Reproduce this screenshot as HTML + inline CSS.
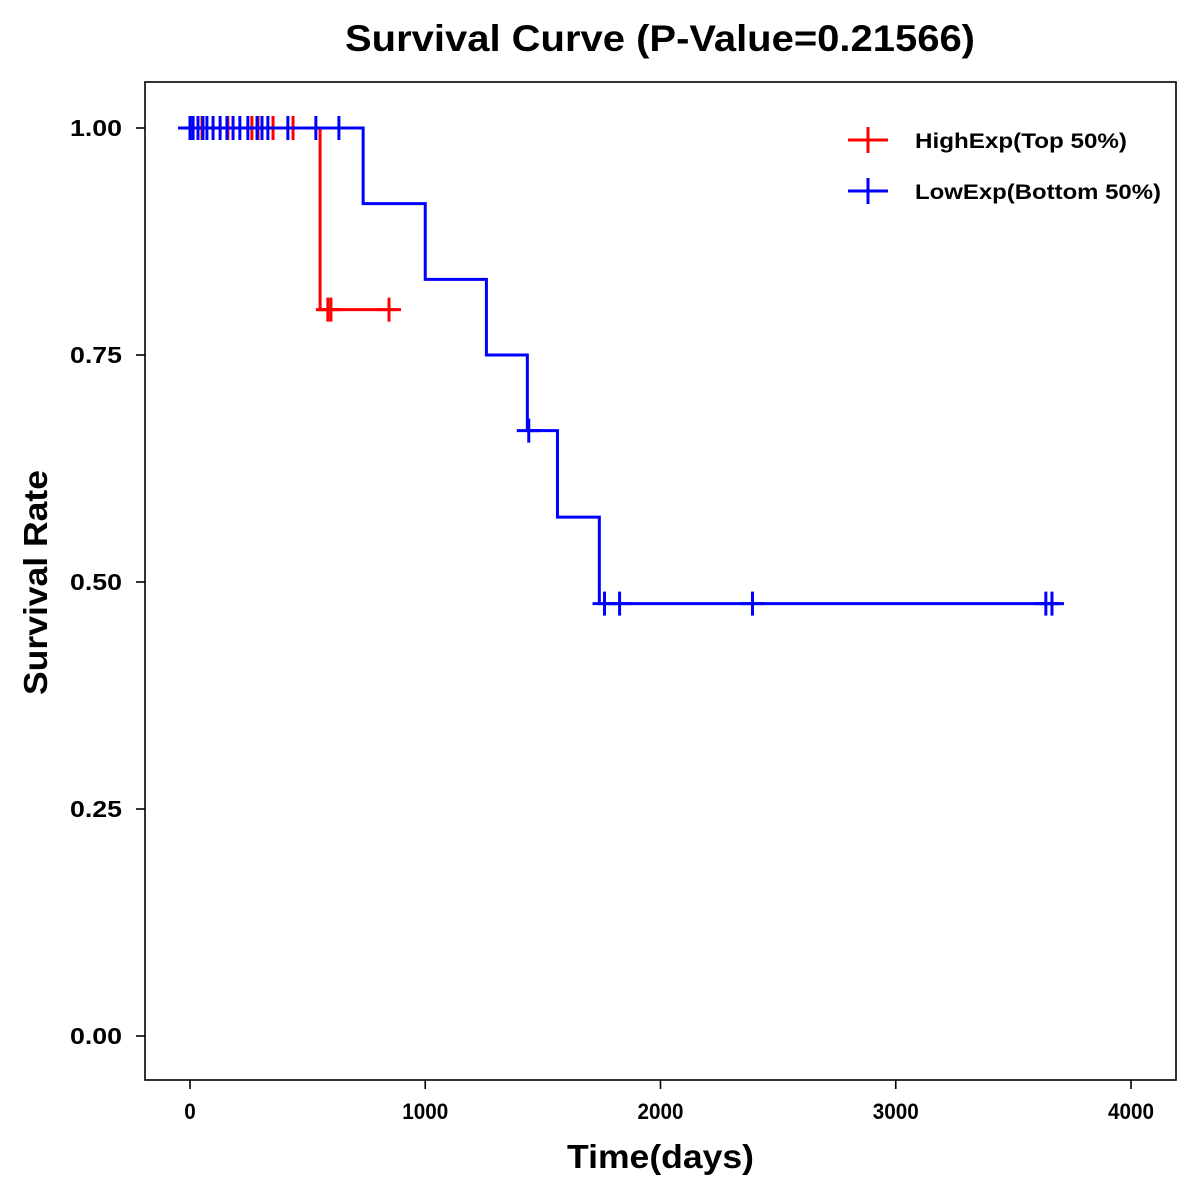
<!DOCTYPE html>
<html><head><meta charset="utf-8"><style>
html,body{margin:0;padding:0;background:#fff;}
svg{display:block;font-family:"Liberation Sans",Arial,sans-serif;font-weight:bold;}
</style></head><body>
<svg id="chart" width="1200" height="1200" viewBox="0 0 1200 1200">
<text x="345" y="51" font-size="37" textLength="630" lengthAdjust="spacingAndGlyphs">Survival Curve (P-Value=0.21566)</text>
<rect x="145" y="82" width="1031" height="998" fill="none" stroke="#000" stroke-width="1.6"/>
<g id="xaxis"></g>
<g id="yaxis"></g>
<g id="series"></g>
<text x="567" y="1168" font-size="33" textLength="187" lengthAdjust="spacingAndGlyphs">Time(days)</text>
<text transform="translate(47,695) rotate(-90)" font-size="33" textLength="225" lengthAdjust="spacingAndGlyphs">Survival Rate</text>
<g>
<g>
<line x1="848" y1="140" x2="888" y2="140" stroke="#f00" stroke-width="3"/>
<line x1="868" y1="127" x2="868" y2="153" stroke="#f00" stroke-width="3"/>
<text x="915" y="148" font-size="21" textLength="212" lengthAdjust="spacingAndGlyphs">HighExp(Top 50%)</text></g>
<g>
<line x1="848" y1="191" x2="888" y2="191" stroke="#00f" stroke-width="3"/>
<line x1="868" y1="178" x2="868" y2="204" stroke="#00f" stroke-width="3"/>
<text x="915" y="199" font-size="21" textLength="246" lengthAdjust="spacingAndGlyphs">LowExp(Bottom 50%)</text></g>
</g>
</svg>
<script>
const xTicks=[0,1000,2000,3000,4000];
const yTicks=[0,0.25,0.5,0.75,1.0];
const yTickLabels=["0.00","0.25","0.50","0.75","1.00"];
const highTimes=[0,553,880];
const highSurv=[1.0,0.8,0.8];
const highCensorT=[51,161,263,289,353,438,586,599,846];
const highCensorS=[1,1,1,1,1,1,0.8,0.8,0.8];
const lowTimes=[0,736,1000,1260,1434,1562,1740,3700];
const lowSurv=[1.0,0.9167,0.8333,0.75,0.6667,0.5714,0.4762,0.4762];
const lowCensorT=[0,13,34,55,72,98,128,157,183,212,246,285,306,331,416,535,633,1440,1762,1826,2391,3638,3664];
const lowCensorS=[1,1,1,1,1,1,1,1,1,1,1,1,1,1,1,1,1,0.6667,0.4762,0.4762,0.4762,0.4762,0.4762];
const NS="http://www.w3.org/2000/svg";
const xs=t=>190+t*(941/4000);
const ys=s=>1036-s*908;
function mk(tag,attrs,parent){const e=document.createElementNS(NS,tag);for(const k in attrs)e.setAttribute(k,attrs[k]);parent.appendChild(e);return e;}
const xa=document.getElementById('xaxis'),ya=document.getElementById('yaxis'),sg=document.getElementById('series');
xTicks.forEach(v=>{
 const l=mk('line',{x1:xs(v),x2:xs(v),y1:1080,y2:1089,stroke:'#000','stroke-width':1.6},xa);
 
 
 const s=String(v);
 const t=mk('text',{x:xs(v),y:1119,'text-anchor':'middle','font-size':22,textLength:s.length*11.5,lengthAdjust:'spacingAndGlyphs'},xa);t.textContent=s;
 
 
});
yTicks.forEach((v,i)=>{
 const l=mk('line',{x1:136,x2:145,y1:ys(v),y2:ys(v),stroke:'#000','stroke-width':1.6},ya);
 
 
 const t=mk('text',{x:122,y:ys(v)+8,'text-anchor':'end','font-size':23,textLength:52,lengthAdjust:'spacingAndGlyphs'},ya);t.textContent=yTickLabels[i];
 
 
});
function drawSeries(times,surv,ct,cs,color,name){
 let d='M'+xs(times[0])+','+ys(surv[0]);
 for(let i=1;i<times.length;i++){d+=' H'+xs(times[i])+' V'+ys(surv[i]);}
 const p=mk('path',{d:d,fill:'none',stroke:color,'stroke-width':3},sg);
 
 
 ct.forEach((t,i)=>{
  const x=xs(t),y=ys(cs[i]);
  const g=mk('path',{d:`M${x-12},${y} H${x+12} M${x},${y-12} V${y+12}`,stroke:color,'stroke-width':3,fill:'none'},sg);
  
  
 });
}
drawSeries(highTimes,highSurv,highCensorT,highCensorS,'#f00','high-exp');
drawSeries(lowTimes,lowSurv,lowCensorT,lowCensorS,'#00f','low-exp');
</script>
</body></html>
